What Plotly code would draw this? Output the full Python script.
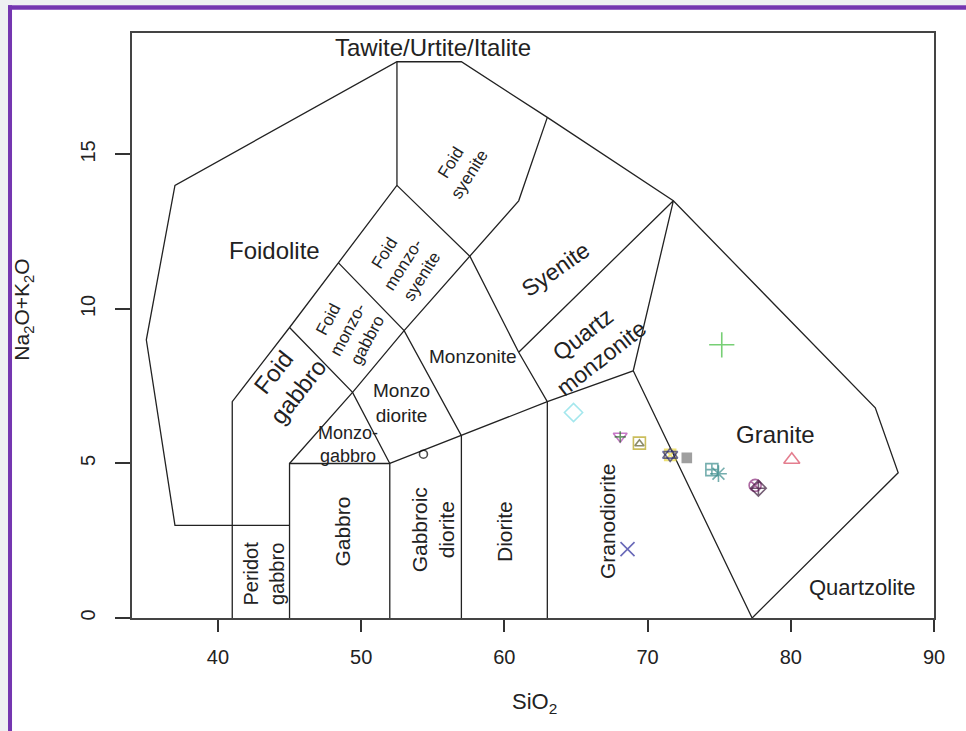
import plotly.graph_objects as go

# ---------------- data: TAS (Middlemost 1994, plutonic) field boundaries ----------------
b1_x = [45, 37, 35, 37, 52.5, 57, 63, 71.8, 85.9, 87.5, 77.3]
b1_y = [3, 3, 9, 14, 18, 18, 16.2, 13.5, 6.8, 4.7, 0]
b2_x = [41, 41, 45, 48.4, 52.5, 52.5]
b2_y = [0, 7, 9.4, 11.5, 14, 18]
b3_x = [45, 45, 52, 52]
b3_y = [0, 5, 5, 0]
b4_x = [45, 49.4, 53, 57.6, 61, 63]
b4_y = [5, 7.3, 9.3, 11.7, 13.5, 16.2]
b5_x = [45, 49.4, 52]
b5_y = [9.4, 7.3, 5]
b6_x = [48.4, 53, 57, 57]
b6_y = [11.5, 9.3, 5.9, 0]
b7_x = [52.5, 57.6, 61, 63, 63]
b7_y = [14, 11.7, 8.6, 7, 0]
b8_x = [52, 57, 63, 69, 77.3]
b8_y = [5, 5.9, 7, 8, 0]
b9_x = [61, 71.8, 69]
b9_y = [8.6, 13.5, 8]
boundaries = [(b1_x, b1_y), (b2_x, b2_y), (b3_x, b3_y), (b4_x, b4_y), (b5_x, b5_y),
              (b6_x, b6_y), (b7_x, b7_y), (b8_x, b8_y), (b9_x, b9_y)]

# field names and label anchor points
field_names = ["Tawite/Urtite/Italite", "Foidolite", "Foid<br>syenite", "Foid<br>monzo-<br>syenite",
               "Foid<br>monzo-<br>gabbro", "Foid<br>gabbro", "Syenite", "Quartz<br>monzonite",
               "Monzonite", "Monzo<br>diorite", "Monzo-<br>gabbro", "Peridot<br>gabbro", "Gabbro",
               "Gabbroic<br>diorite", "Diorite", "Granodiorite", "Granite", "Quartzolite"]
label_x = [55.0, 43.95, 56.9, 52.95, 49.1, 44.7, 63.6, 66.15, 57.8, 52.85, 49.05, 43.2, 48.67,
           55.0, 60.06, 67.2, 78.9, 84.97]
label_y = [18.46, 11.89, 14.55, 11.43, 9.32, 7.65, 11.3, 8.8, 8.46, 6.95, 5.6, 1.43, 2.8,
           2.86, 2.79, 3.15, 5.93, 0.98]

# samples: SiO2 and Na2O+K2O (wt.%)
sio2 = [54.35, 80.07, 75.18, 68.6, 64.83, 68.09, 68.09, 69.43, 69.43, 71.58, 71.58, 71.58,
        72.74, 74.49, 74.95, 77.51, 77.74]
alkali = [5.3, 5.12, 8.84, 2.23, 6.65, 5.88, 5.86, 5.66, 5.64, 5.28, 5.28, 5.28,
          5.18, 4.8, 4.67, 4.29, 4.2]

# ---------------- styles ----------------
label_size = [24, 24, 17, 17, 17, 24, 23, 23, 19, 19, 18, 20, 21, 21, 21, 21, 24, 22]
label_angle = [0, 0, -58, -58, -62, -52, -35, -38, 0, 0, 0, -90, -90, -90, -90, -90, 0, 0]
marker_symbol = ["circle-open", "triangle-up-open", "cross-thin-open", "x-thin-open", "diamond-open",
                 "triangle-down-open", "cross-thin-open", "square-open", "triangle-up-open",
                 "square-x-open", "triangle-up-open", "triangle-down-open", "square",
                 "square-cross-open", "asterisk-open", "circle-x-open", "diamond-cross-open"]
marker_color = ["#000000", "#D9475F", "#3DBB3A", "#2A2A9A", "#7EDDE6", "#B040B0", "#2E6B2E",
                "#B5A317", "#5A5A2A", "#E8D53A", "#2E2E6E", "#2E2E6E", "#777777",
                "#3A8C8C", "#3A8C8C", "#8A2A7A", "#3A1A3A"]
marker_size = [8, 14, 18, 14, 14, 12, 8, 12, 8, 11, 13, 13, 9, 12, 14, 12, 12]

FONT = "Liberation Sans, Arial, Helvetica, sans-serif"
INK = "#222222"

fig = go.Figure()
for bx, by in boundaries:
    fig.add_trace(go.Scatter(x=bx, y=by, mode="lines", line=dict(color=INK, width=1.3),
                             hoverinfo="skip", showlegend=False))

fig.add_trace(go.Scatter(x=sio2, y=alkali, mode="markers", showlegend=False,
                         marker=dict(symbol=marker_symbol, color=marker_color, size=marker_size,
                                     line=dict(width=1.6, color=marker_color))))

for name, lx, ly, fs, ang in zip(field_names, label_x, label_y, label_size, label_angle):
    fig.add_annotation(x=lx, y=ly, text=name, showarrow=False, textangle=ang,
                       xanchor="center", yanchor="middle",
                       font=dict(family=FONT, size=fs, color=INK))

# axis titles
fig.add_annotation(xref="paper", yref="paper", x=0.502, y=-0.145, text="SiO<sub>2</sub>",
                   showarrow=False, xanchor="center", yanchor="middle",
                   font=dict(family=FONT, size=22, color=INK))
fig.add_annotation(xref="paper", yref="paper", x=-0.136, y=0.527, text="Na<sub>2</sub>O+K<sub>2</sub>O",
                   showarrow=False, textangle=-90, xanchor="center", yanchor="middle",
                   font=dict(family=FONT, size=21, color=INK))

# page frame (white panel with purple border)
fig.add_shape(type="rect", xref="paper", yref="paper", x0=-0.1546, x1=1.06, y0=-0.2, y1=1.0475,
              fillcolor="white", line=dict(width=0), layer="below")
fig.add_shape(type="rect", xref="paper", yref="paper", x0=-0.1546, x1=1.06, y0=1.0398, y1=1.0475,
              fillcolor="#7436B0", line=dict(width=0), layer="below")
fig.add_shape(type="rect", xref="paper", yref="paper", x0=-0.1546, x1=-0.1496, y0=-0.2, y1=1.0475,
              fillcolor="#7436B0", line=dict(width=0), layer="below")

fig.update_xaxes(range=[34, 90], tickvals=[40, 50, 60, 70, 80, 90], ticks="outside", ticklen=12,
                 tickwidth=1.5, tickcolor="#333", showline=True, mirror=True, linecolor="#444",
                 linewidth=1.5, showgrid=False, zeroline=False, ticklabelstandoff=8,
                 tickfont=dict(family=FONT, size=20, color=INK))
fig.update_yaxes(range=[0, 18.93], tickvals=[0, 5, 10, 15], ticks="outside", ticklen=15,
                 tickwidth=1.5, tickcolor="#333", showline=True, mirror=True, linecolor="#444",
                 linewidth=1.5, showgrid=False, zeroline=False, tickangle=-90, ticklabelstandoff=12,
                 tickfont=dict(family=FONT, size=20, color=INK))

fig.update_layout(width=966, height=731, autosize=False,
                  margin=dict(l=132, r=32, t=33, b=113, pad=0),
                  paper_bgcolor="#EEF0F2", plot_bgcolor="white",
                  font=dict(family=FONT, color=INK))

fig.write_html("out.html", config={"displayModeBar": False},
               post_script="document.body.style.margin='0';document.body.style.overflow='hidden';")
